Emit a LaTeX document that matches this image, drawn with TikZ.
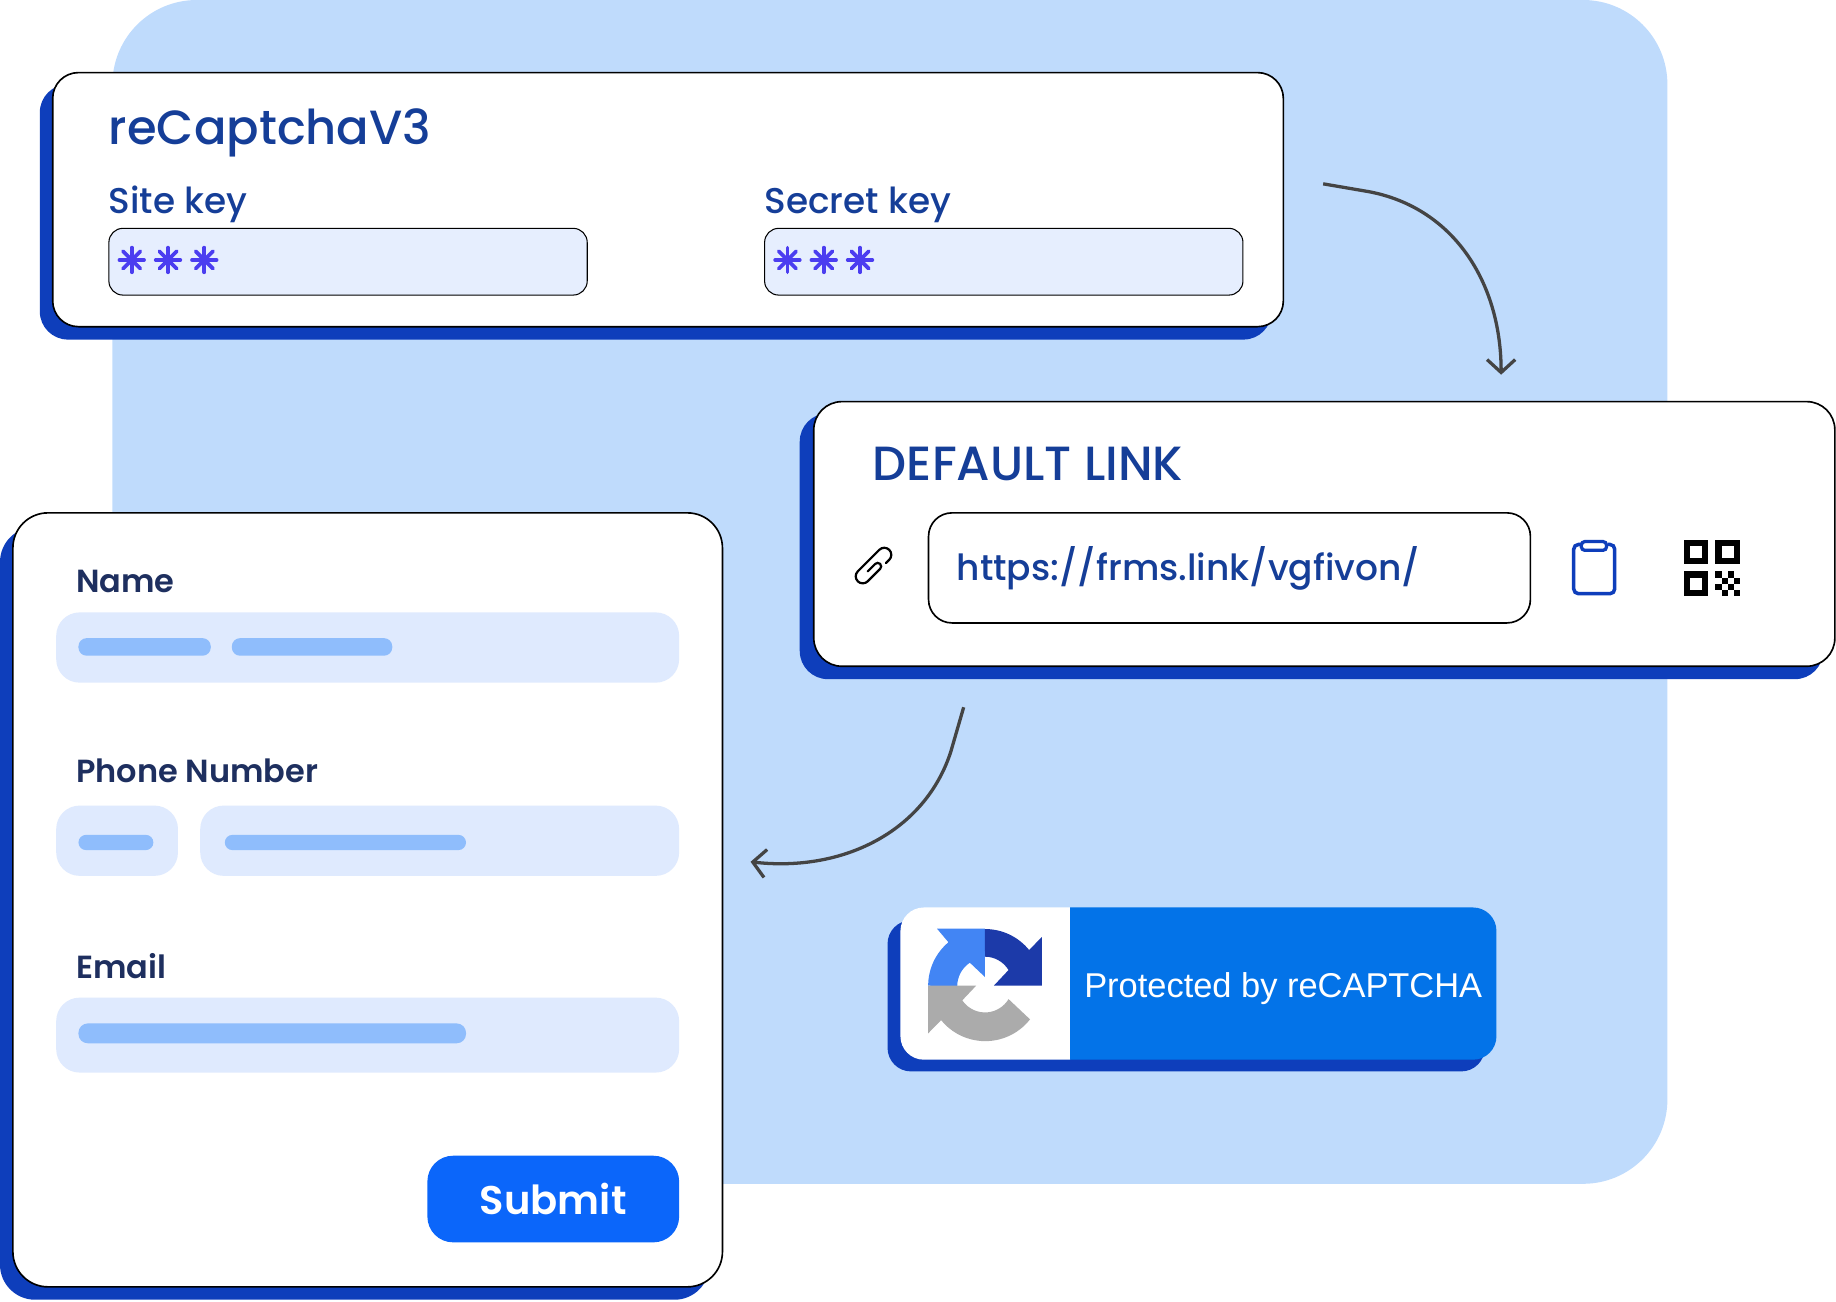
\documentclass[tikz,border=0pt]{standalone}
\usepackage{fontspec}
\setmainfont{Poppins}
\newfontfamily\popmed{Poppins Medium}
\newfontfamily\popsemi{Poppins SemiBold}
\newfontfamily\badgefont{Liberation Sans}
\usetikzlibrary{arrows.meta}
\definecolor{bgblue}{HTML}{BFDBFC}
\definecolor{shadowblue}{HTML}{0E3EBB}
\definecolor{titleblue}{HTML}{153E98}
\definecolor{inputblue}{HTML}{E6EEFE}
\definecolor{starblue}{HTML}{4B3DF0}
\definecolor{labelblue}{HTML}{1E2F5F}
\definecolor{fieldblue}{HTML}{DFEAFE}
\definecolor{barblue}{HTML}{8FBDFC}
\definecolor{submitblue}{HTML}{0B66FA}
\definecolor{badgeblue}{HTML}{0373E8}
\definecolor{curvegrey}{HTML}{444444}
\tikzset{>={Straight Barb[length=11pt,width=24pt,line width=2.8pt]}}
\tikzset{box/.style={rectangle,anchor=north west,inner sep=0pt,outer sep=0pt}}
\tikzset{shadowbox/.style={box,fill=shadowblue}}
\tikzset{cardbox/.style={box,fill=white,draw=black,line width=1.4pt}}
\tikzset{inputbox/.style={box,fill=inputblue,draw=black,line width=0.9pt,rounded corners=12pt,minimum width=408.5pt,minimum height=57pt}}
\tikzset{fieldbox/.style={box,fill=fieldblue,rounded corners=20pt}}
\tikzset{barbox/.style={box,fill=barblue,rounded corners=7pt,minimum height=15pt}}
\tikzset{txt/.style={anchor=base west,inner sep=0pt,outer sep=0pt}}
\tikzset{big/.style={txt,text=titleblue,font=\popmed\fontsize{41}{41}\selectfont}}
\tikzset{keytxt/.style={txt,text=titleblue,font=\popmed\fontsize{30.6}{30.6}\selectfont}}
\tikzset{labeltxt/.style={txt,text=labelblue,font=\popsemi\fontsize{27.3}{27.3}\selectfont}}
\tikzset{curve/.style={draw=curvegrey,line width=2.8pt,->}}
\tikzset{star/.pic={\foreach \a in {0,45,...,315} \draw[starblue,line width=3.2pt,line cap=round] (0,0) -- (\a:10.5);}}
\begin{document}
\begin{tikzpicture}[x=1pt,y=-1pt]
    \useasboundingbox (0,0) rectangle (1568,1111.1);
    \node[box,fill=bgblue,rounded corners=72pt,minimum width=1328pt,minimum height=1011pt] (bg) at (96,0) {};

    % key card
    \node[shadowbox,rounded corners=24pt,minimum width=1052pt,minimum height=218pt] (keyshadow) at (34,72) {};
    \node[cardbox,rounded corners=22pt,minimum width=1051pt,minimum height=217pt] (keycard) at (45,62) {};
    \node[big] (keytitle) at (93,123) {reCaptchaV3};
    \node[keytxt] (sitelabel) at (93,182) {Site key};
    \node[keytxt] (secretlabel) at (653,182) {Secret key};
    \node[inputbox] (siteinput) at (93,195) {};
    \node[inputbox] (secretinput) at (653,195) {};
    \foreach \x in {112.5,143.5,174.5,672.5,703.5,734.5}
        \pic at (\x,222) {star};

    % link card
    \node[shadowbox,rounded corners=24pt,minimum width=874pt,minimum height=227pt] (linkshadow) at (683,353) {};
    \node[cardbox,rounded corners=24pt,minimum width=872pt,minimum height=226pt] (linkcard) at (695,343) {};
    \node[big] (linktitle) at (745.5,410) {DEFAULT LINK};
    \node[box,fill=white,draw=black,line width=1.4pt,rounded corners=20pt,minimum width=514pt,minimum height=94pt] (urlbox) at (793,438) {};
    \node[txt,text=titleblue,font=\popmed\fontsize{30.75}{30.75}\selectfont] (urltxt) at (817,496) {https://frms.link/vgfivon/};
    \begin{scope}[shift={(746,483)},rotate=45]
        \draw[black,line width=1.9pt,line cap=round] (9,6) -- (13,6) arc (90:-90:6) -- (-13,-6) arc (-90:-270:6) -- (2,6)
            arc (90:-90:3) -- (-7,0);
    \end{scope}
    \draw[shadowblue,line width=3pt,rounded corners=4pt] (1350,465) -- (1344,465) -- (1344,507) -- (1379,507) -- (1379,465) -- (1373,465);
    \draw[shadowblue,line width=2.8pt,fill=white,rounded corners=3pt] (1350.5,462.5) rectangle (1372,470);
    \foreach \x/\y in {1438/461,1465/461,1438/488}{
        \fill[black] (\x,\y) rectangle ++(21,21);
        \fill[white] (\x+5.5,\y+5.5) rectangle ++(10,10);
    }
    \foreach \x/\y in {0/0,2/0,1/1,3/1,0/2,2/2,1/3,3/3}
        \fill[black] (1465+\x*5.25,488+\y*5.25) rectangle ++(5.25,5.25);

    % form card
    \node[shadowbox,rounded corners=30pt,minimum width=606pt,minimum height=660pt] (formshadow) at (0,450) {};
    \node[cardbox,rounded corners=30pt,minimum width=606pt,minimum height=661pt] (formcard) at (11,438) {};
    \node[labeltxt] (namelabel) at (65,506) {Name};
    \node[fieldbox,minimum width=532pt,minimum height=60pt] (namefield) at (48,523) {};
    \node[barbox,minimum width=113pt] (namebara) at (67,545) {};
    \node[barbox,minimum width=137pt] (namebarb) at (198,545) {};
    \node[labeltxt] (phonelabel) at (65,668) {Phone Number};
    \node[fieldbox,minimum width=104pt,minimum height=60pt] (codefield) at (48,688) {};
    \node[fieldbox,minimum width=409pt,minimum height=60pt] (phonefield) at (171,688) {};
    \node[barbox,minimum width=64pt,rounded corners=6.5pt,minimum height=13pt] (codebar) at (67,713) {};
    \node[barbox,minimum width=206pt,rounded corners=6.5pt,minimum height=13pt] (phonebar) at (192,713) {};
    \node[labeltxt] (emaillabel) at (65,836) {Email};
    \node[fieldbox,minimum width=532pt,minimum height=64pt] (emailfield) at (48,852) {};
    \node[barbox,minimum width=331pt,minimum height=17pt,rounded corners=8pt] (emailbar) at (67,874) {};
    \node[box,fill=submitblue,rounded corners=22pt,minimum width=215pt,minimum height=74pt,text=white,font=\popsemi\fontsize{34.2}{34.2}\selectfont] (submit) at (365,987) {Submit};

    % badge
    \node[shadowbox,rounded corners=20pt,minimum width=510pt,minimum height=129pt] (badgeshadow) at (758,786) {};
    \fill[white] (914,775) [rounded corners=20pt] -- (769,775) -- (769,905) [sharp corners] -- (914,905) -- cycle;
    \fill[badgeblue] (914,775) [rounded corners=20pt] -- (1278,775) -- (1278,905) [sharp corners] -- (914,905) -- cycle;
    \node[txt,text=white,font=\badgefont\fontsize{29.4}{29.4}\selectfont] (badgetxt) at (926,851.5) {Protected by reCAPTCHA};
    \begin{scope}[shift={(841.2,841.8)},x=0.3594pt,y=0.2847pt]
        \fill[fill={rgb,255:red,66;green,133;blue,244}] (-135,0) arc[start angle=180,end angle=130,x radius=135,y radius=170]
            -- (-114,171) -- (0,171) -- (0,26) -- (-36,69) arc[start angle=123,end angle=180,x radius=66,y radius=85] -- cycle;
        \fill[fill={rgb,255:red,28;green,58;blue,169}] (0,170) arc[start angle=90,end angle=39,x radius=135,y radius=170]
            -- (135,146) -- (135,0) -- (21,0) -- (56,47) arc[start angle=32,end angle=90,x radius=66,y radius=85] -- cycle;
        \fill[fill={rgb,255:red,171;green,171;blue,171}] (-135,0) -- (-21,0) -- (-54,-44) arc[start angle=215,end angle=328,x radius=66,y radius=85]
            -- (107,-101) arc[start angle=322,end angle=219,x radius=135,y radius=170] -- (-135,-143) -- cycle;
    \end{scope}

    % arrows
    \coordinate (keyout) at (1130,157);
    \coordinate (linkin) at (1282,320);
    \coordinate (linkout) at (823,604);
    \coordinate (formin) at (641,736);
    \draw[curve] (keyout) -- (1165,163) .. controls (1240,175) and (1282,240) .. (linkin);
    \draw[curve] (linkout) -- (812,642) .. controls (790,710) and (720,745) .. (formin);
\end{tikzpicture}
\end{document}
